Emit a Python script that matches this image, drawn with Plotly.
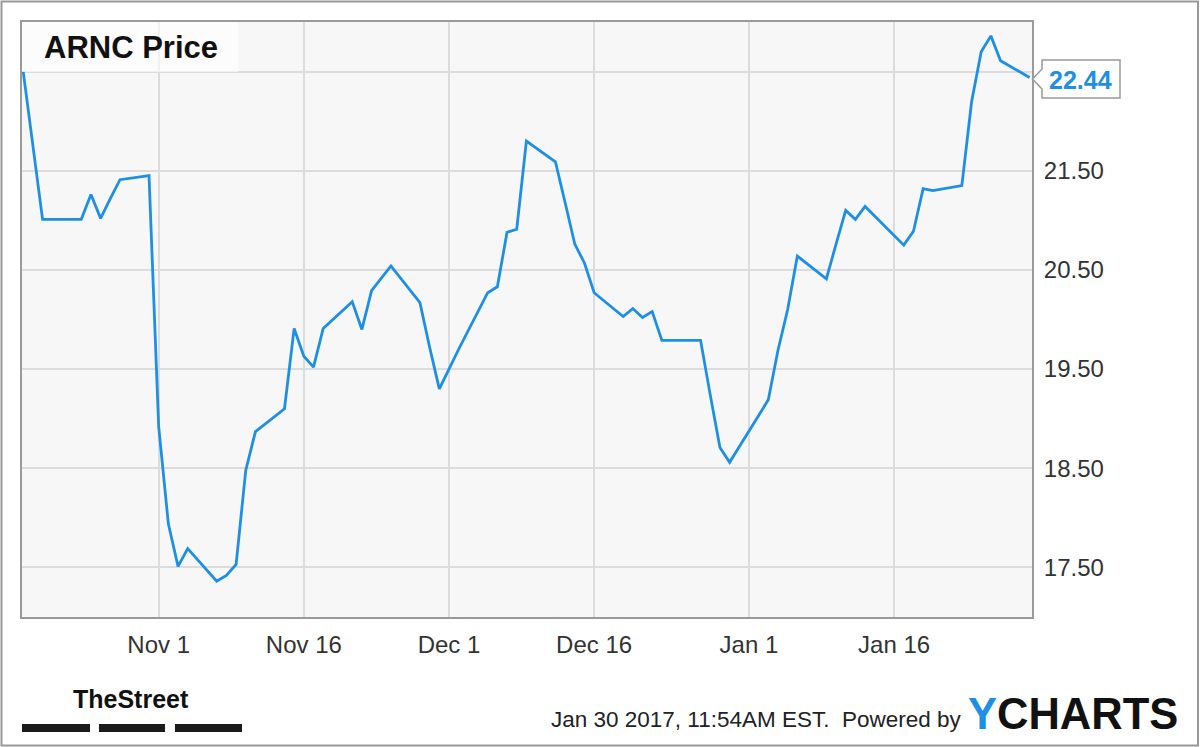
import plotly.graph_objects as go

# ---- data ----
dates = [
    "2016-10-18", "2016-10-19", "2016-10-20", "2016-10-21", "2016-10-24", "2016-10-25",
    "2016-10-26", "2016-10-27", "2016-10-28", "2016-10-31",
    "2016-11-01", "2016-11-02", "2016-11-03", "2016-11-04", "2016-11-07", "2016-11-08",
    "2016-11-09", "2016-11-10", "2016-11-11", "2016-11-14", "2016-11-15", "2016-11-16",
    "2016-11-17", "2016-11-18", "2016-11-21", "2016-11-22", "2016-11-23", "2016-11-25",
    "2016-11-28", "2016-11-29", "2016-11-30",
    "2016-12-01", "2016-12-02", "2016-12-05", "2016-12-06", "2016-12-07", "2016-12-08",
    "2016-12-09", "2016-12-12", "2016-12-13", "2016-12-14", "2016-12-15", "2016-12-16",
    "2016-12-19", "2016-12-20", "2016-12-21", "2016-12-22", "2016-12-23", "2016-12-27",
    "2016-12-28", "2016-12-29", "2016-12-30",
    "2017-01-03", "2017-01-04", "2017-01-05", "2017-01-06", "2017-01-09", "2017-01-10",
    "2017-01-11", "2017-01-12", "2017-01-13", "2017-01-17", "2017-01-18", "2017-01-19",
    "2017-01-20", "2017-01-23", "2017-01-24", "2017-01-25", "2017-01-26", "2017-01-27",
    "2017-01-30",
]
prices = [
    22.50, 21.76, 21.01, 21.01, 21.01, 21.26,
    21.02, 21.22, 21.41, 21.45,
    18.92, 17.94, 17.51, 17.69, 17.36, 17.42,
    17.53, 18.48, 18.87, 19.10, 19.91, 19.63,
    19.52, 19.91, 20.18, 19.90, 20.29, 20.54,
    20.17, 19.72, 19.30,
    19.50, 19.70, 20.27, 20.33, 20.88, 20.91,
    21.80, 21.59, 21.18, 20.76, 20.57, 20.27,
    20.03, 20.11, 20.02, 20.08, 19.79, 19.79,
    19.24, 18.71, 18.56,
    19.19, 19.69, 20.10, 20.64, 20.41, 20.76,
    21.10, 21.01, 21.14, 20.75, 20.89, 21.32,
    21.30, 21.35, 22.19, 22.70, 22.86, 22.61,
    22.44,
]
x_tick_vals = ["2016-11-01", "2016-11-16", "2016-12-01", "2016-12-16", "2017-01-01", "2017-01-16"]
x_tick_text = ["Nov 1", "Nov 16", "Dec 1", "Dec 16", "Jan 1", "Jan 16"]
y_tick_vals = [17.5, 18.5, 19.5, 20.5, 21.5, 22.5]
y_tick_text = ["17.50", "18.50", "19.50", "20.50", "21.50", ""]
title_text = "ARNC Price"
last_label = "22.44"
footer_text = "Jan 30 2017, 11:54AM EST.  Powered by"

W, H = 1200, 747
L, R, T, B = 22, 1032, 22, 617
LINE_BLUE = "#1e8fe6"
FONT = "Arial, Liberation Sans, sans-serif"


def px(xp):
    return (xp - L) / (R - L)


def py(yp):
    return (B - yp) / (B - T)


fig = go.Figure()
fig.add_trace(go.Scatter(
    x=dates, y=prices, mode="lines",
    line=dict(color=LINE_BLUE, width=2.8),
    hoverinfo="skip", showlegend=False,
))

shapes = []
# outer frame
shapes.append(dict(type="rect", xref="paper", yref="paper",
                   x0=px(1.5), x1=px(1198), y0=py(745.5), y1=py(1.5),
                   line=dict(color="#999999", width=2), fillcolor="rgba(0,0,0,0)", layer="below"))
# title box
shapes.append(dict(type="rect", xref="paper", yref="paper",
                   x0=px(L), x1=px(238), y0=py(72), y1=py(T),
                   line=dict(width=0), fillcolor="rgba(255,255,255,0.6)", layer="above"))
# last value box with notch
pts = [(1042, 60), (1120, 60), (1120, 98), (1042, 98), (1042, 89), (1032.5, 79), (1042, 69)]
path = "M " + " L ".join(f"{px(a):.5f},{py(b):.5f}" for a, b in pts) + " Z"
shapes.append(dict(type="path", xref="paper", yref="paper", path=path,
                   line=dict(color="#9a9a9a", width=1.5), fillcolor="white", layer="above"))
# TheStreet bars
for a, b in [(22, 90), (99, 165), (175, 242)]:
    shapes.append(dict(type="rect", xref="paper", yref="paper",
                       x0=px(a), x1=px(b), y0=py(732), y1=py(724),
                       line=dict(width=0), fillcolor="#1a1a1a", layer="above"))

annotations = [
    dict(text=f"<b>{title_text}</b>", xref="paper", yref="paper", x=px(42), y=py(48),
         xanchor="left", yanchor="middle", showarrow=False,
         font=dict(family=FONT, size=31, color="#111111")),
    dict(text=f"<b>{last_label}</b>", xref="paper", yref="paper", x=px(1080), y=py(80),
         xanchor="center", yanchor="middle", showarrow=False,
         font=dict(family=FONT, size=25, color=LINE_BLUE)),
    dict(text="<b>TheStreet</b>", xref="paper", yref="paper", x=px(131), y=py(699),
         xanchor="center", yanchor="middle", showarrow=False,
         font=dict(family=FONT, size=25, color="#111111")),
    dict(text=footer_text, xref="paper", yref="paper", x=px(964), y=py(719),
         xanchor="right", yanchor="middle", showarrow=False,
         font=dict(family=FONT, size=22.5, color="#222222")),
    dict(text="<b><span style='color:#1e8fe6'>Y</span>CHARTS</b>", xref="paper", yref="paper",
         x=px(966), y=py(714), xanchor="left", yanchor="middle", showarrow=False,
         font=dict(family=FONT, size=43.5, color="#111111")),
]

fig.update_layout(
    width=W, height=H,
    margin=dict(l=L, r=W - R, t=T, b=H - B),
    paper_bgcolor="white", plot_bgcolor="#f7f7f7",
    shapes=shapes, annotations=annotations,
    showlegend=False,
    xaxis=dict(
        type="date",
        range=["2016-10-17 21:00", "2017-01-30 06:00"],
        tickvals=x_tick_vals, ticktext=x_tick_text,
        showgrid=True, gridcolor="#dcdcdc", gridwidth=2,
        showline=True, linecolor="#9a9a9a", linewidth=2, mirror=True,
        ticks="", ticklabelstandoff=5,
        tickfont=dict(family=FONT, size=24, color="#333333"),
        zeroline=False, fixedrange=True,
    ),
    yaxis=dict(
        side="right",
        range=[17.0, 23.0],
        tickvals=y_tick_vals, ticktext=y_tick_text,
        showgrid=True, gridcolor="#dcdcdc", gridwidth=2,
        showline=True, linecolor="#9a9a9a", linewidth=2, mirror=True,
        ticks="", ticklabelstandoff=5,
        tickfont=dict(family=FONT, size=24, color="#333333"),
        zeroline=False, fixedrange=True,
    ),
)

fig.write_html("out.html", config={"displayModeBar": False},
               post_script="document.body.style.margin='0px';document.body.style.overflow='hidden';")
